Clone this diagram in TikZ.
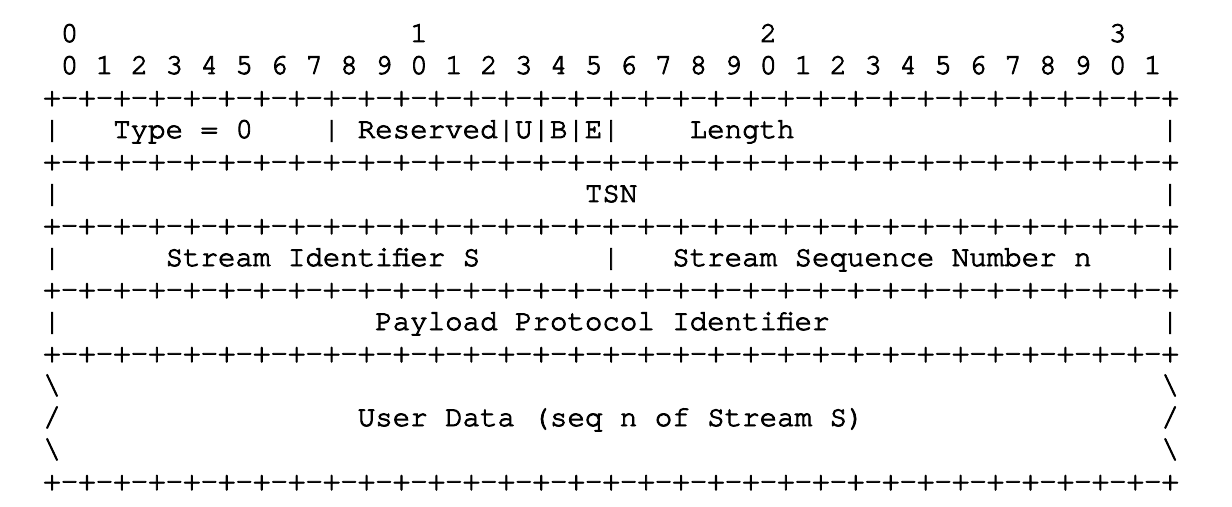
\documentclass[tikz,border=0pt]{standalone}
\usepackage{fontspec}
\newfontfamily\asciifont[FakeBold=3]{texgyrecursor-regular.otf}
\begin{document}
\begin{tikzpicture}[x=17.47bp,y=32bp,
  ascii/.style={anchor=base west,inner sep=0pt,outer sep=0pt,
    font=\asciifont\fontsize{29.12bp}{32bp}\selectfont}]
\fill[white] (0,0) rectangle (70.52,15.8125);
\useasboundingbox (0,0) rectangle (70.52,15.8125);
%% bit numbers
\foreach \t/\c in {0/1,1/21,2/41,3/61}
  \node (tens_\t) at (\c+2.48,14.5) [ascii] {\t};
\foreach \b in {0,...,31} {
  \pgfmathtruncatemacro\d{mod(\b,10)}
  \node (bit_\b) at (2*\b+3.48,13.5) [ascii] {\d};
}
%% rulers
\foreach \r/\y in {0/12.5,1/10.5,2/8.5,3/6.5,4/4.5,5/0.5}
  \node (rule_\r) at (2.48,\y) [ascii] {\foreach \i in {1,...,32}{+-}+};
%% side bars
\foreach \r/\y in {3/11.5,5/9.5,7/7.5,9/5.5} {
  \node (bar_l\r) at (2.48,\y) [ascii] {|};
  \node (bar_r\r) at (66.48,\y) [ascii] {|};
}
\foreach \r/\y/\s in {11/3.5/{\textbackslash},12/2.5/{/},13/1.5/{\textbackslash}} {
  \node (edge_l\r) at (2.48,\y) [ascii] {\s};
  \node (edge_r\r) at (66.48,\y) [ascii] {\s};
}
%% row 1
\node (type) at (6.48,11.5) [ascii] {Type = 0};
\node (bar_type) at (18.48,11.5) [ascii] {|};
\node (reserved) at (20.48,11.5) [ascii] {Reserved};
\foreach \c in {26,28,30,32}
  \node (bar_flag_\c) at (\c+2.48,11.5) [ascii] {|};
\node (flag_u) at (29.48,11.5) [ascii] {U};
\node (flag_b) at (31.48,11.5) [ascii] {B};
\node (flag_e) at (33.48,11.5) [ascii] {E};
\node (length) at (39.48,11.5) [ascii] {Length};
%% row 2
\node (tsn) at (33.48,9.5) [ascii] {TSN};
%% row 3
\node (stream_id) at (9.48,7.5) [ascii] {Stream Identifier S};
\node (bar_stream) at (34.48,7.5) [ascii] {|};
\node (stream_seq) at (38.48,7.5) [ascii] {Stream Sequence Number n};
%% row 4
\node (ppid) at (21.48,5.5) [ascii] {Payload Protocol Identifier};
%% user data
\node (user_data) at (20.48,2.5) [ascii] {User Data (seq n of Stream S)};
%
\end{tikzpicture}
\end{document}
